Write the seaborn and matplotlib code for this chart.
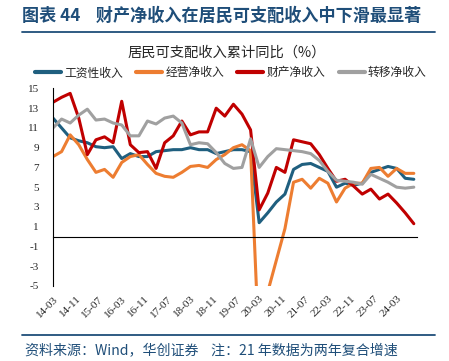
import matplotlib
matplotlib.use("Agg")
import matplotlib.pyplot as plt
from matplotlib.lines import Line2D
import pandas as pd
import seaborn as sns

# 季度数据：2014Q1 - 2024Q3（累计同比，%）
quarters = pd.period_range("2014Q1", "2024Q3", freq="Q")

wage = [12.0, 11.0, 10.0, 9.7, 9.5, 9.1, 9.0, 9.1, 7.9, 8.4,
        8.1, 8.1, 8.6, 8.7, 8.8, 8.8, 9.0, 8.8, 8.8, 8.4,
        8.6, 8.8, 8.8, 8.6, 1.4, 2.4, 3.5, 4.3, 6.8, 7.3,
        7.4, 7.0, 6.6, 5.0, 5.4, 5.2, 5.4, 6.5, 6.8, 7.1,
        6.9, 5.9, 5.8]
business = [8.1, 8.6, 10.3, 9.3, 7.8, 6.5, 6.8, 6.0, 7.5, 8.1,
            8.3, 7.3, 6.4, 6.1, 6.0, 6.5, 7.1, 7.2, 7.0, 7.8,
            8.3, 9.0, 9.3, 8.7, -11.7, -5.6, -2.4, 0.8, 5.5, 5.8,
            4.9, 5.9, 5.4, 3.5, 4.9, 5.4, 5.4, 6.9, 7.0, 6.1,
            6.9, 6.4, 6.4]
property_inc = [13.6, 14.1, 14.5, 12.0, 8.3, 9.8, 10.1, 9.5, 13.7, 9.3,
                8.5, 8.6, 6.9, 9.5, 10.2, 11.7, 10.3, 10.6, 10.6, 13.0,
                12.2, 13.4, 12.4, 10.8, 2.7, 4.4, 7.0, 6.5, 9.8, 9.6,
                9.4, 8.3, 6.9, 5.6, 5.8, 5.1, 4.3, 4.8, 3.8, 4.3,
                3.4, 2.4, 1.3]
transfer = [11.0, 11.9, 11.5, 12.3, 12.9, 11.8, 11.9, 11.5, 11.3, 10.2,
            10.2, 11.7, 11.4, 12.0, 12.2, 11.5, 9.3, 9.5, 9.4, 8.5,
            7.4, 6.9, 7.0, 9.9, 7.0, 8.1, 8.9, 8.8, 8.7, 8.6,
            8.4, 7.7, 6.6, 5.7, 5.6, 5.5, 5.3, 6.3, 5.9, 5.5,
            5.0, 4.9, 5.0]

series_names = ["工资性收入", "经营净收入", "财产净收入", "转移净收入"]
colors = ["#1F5F7F", "#ED7D31", "#C00000", "#A0A0A0"]

tick_labels = ["14-03", "14-11", "15-07", "16-03", "16-11", "17-07", "18-03", "18-11",
               "19-07", "20-03", "20-11", "21-07", "22-03", "22-11", "23-07", "24-03"]

# 以 2014-03 为起点的月份序号
months = [(p.year - 2014) * 12 + p.quarter * 3 - 3 for p in quarters]

df = pd.DataFrame({"月份": months, series_names[0]: wage, series_names[1]: business,
                   series_names[2]: property_inc, series_names[3]: transfer})
df = df.melt(id_vars="月份", var_name="类别", value_name="同比")

sns.set_style("white")
plt.rcParams["font.family"] = ["Noto Sans CJK SC", "DejaVu Sans"]
plt.rcParams["axes.unicode_minus"] = False

fig = plt.figure(figsize=(4.49, 3.61), dpi=100)
ax = fig.add_axes([0.118, 0.208, 0.81, 0.547])

sns.lineplot(data=df, x="月份", y="同比", hue="类别", hue_order=series_names,
             palette=dict(zip(series_names, colors)), linewidth=2.2, sort=False, ax=ax)

ax.set_xlim(0, 127)
ax.set_ylim(-5, 15)
ax.set_yticks(range(-5, 16, 2))
ax.set_xlabel("")
ax.set_ylabel("")
for s in ["top", "right"]:
    ax.spines[s].set_visible(False)
ax.spines["left"].set_color("black")
ax.spines["bottom"].set_color("black")
ax.spines["bottom"].set_position(("data", 0))
ax.tick_params(axis="y", direction="out", length=3, width=0.8, color="black", pad=7,
               labelsize=8, labelfontfamily="Liberation Serif")
xt = list(range(0, 121, 8))
ax.set_xticks(xt)
ax.tick_params(axis="x", direction="in", length=3, width=0.8, color="black", labelbottom=False)

# 横轴标签放在图底部
sec = ax.secondary_xaxis("bottom")
sec.set_xticks(xt, labels=tick_labels)
sec.tick_params(length=0, pad=6, labelsize=8, labelfontfamily="Liberation Serif")
sec.spines["bottom"].set_visible(False)
for lbl in sec.get_xticklabels():
    lbl.set_rotation(45)
    lbl.set_ha("right")
    lbl.set_va("top")
    lbl.set_rotation_mode("anchor")

handles, labels = ax.get_legend_handles_labels()
ax.get_legend().remove()
leg = fig.legend(handles, labels, loc="center", bbox_to_anchor=(0.514, 0.798), ncol=4,
                 frameon=False, fontsize=8.5, handlelength=2.2, handletextpad=0.3,
                 columnspacing=1.1)
for ln in leg.get_lines():
    ln.set_linewidth(3)

fig.text(0.506, 0.853, "居民可支配收入累计同比（%）", ha="center", va="center", fontsize=10.3)

title_blue = "#1F4E79"
fig.text(0.049, 0.956, "图表 44    财产净收入在居民可支配收入中下滑最显著", ha="left", va="center",
         fontsize=12.3, fontweight="bold", color=title_blue)
fig.add_artist(Line2D([0.049, 0.969], [0.911, 0.911], color=title_blue, linewidth=1.3))
fig.add_artist(Line2D([0.049, 0.969], [0.072, 0.072], color=title_blue, linewidth=1.3))
fig.text(0.056, 0.026, "资料来源：Wind，华创证券    注：21 年数据为两年复合增速", ha="left", va="center",
         fontsize=10.1, fontstyle="italic", color=title_blue)

fig.savefig("out.png", dpi=100)
